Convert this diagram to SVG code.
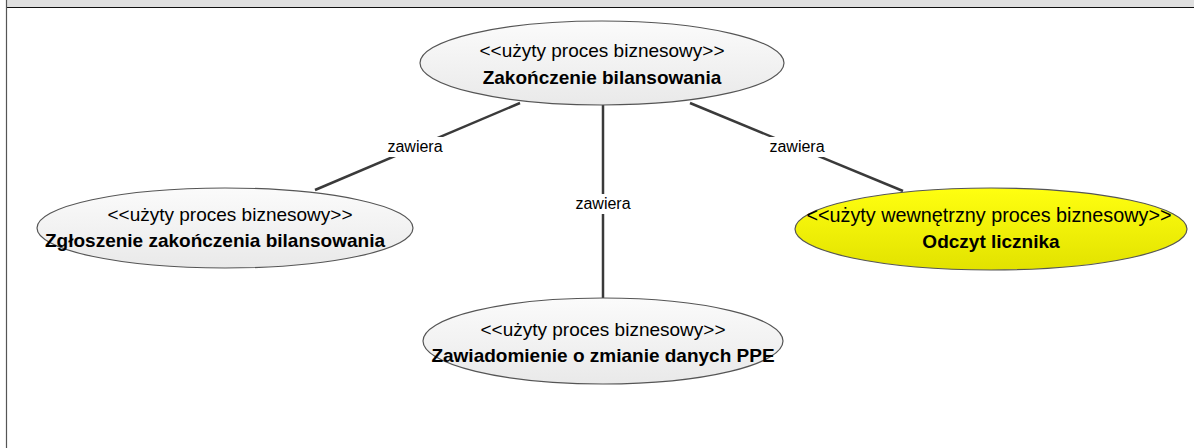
<svg xmlns="http://www.w3.org/2000/svg" width="1194" height="448" viewBox="0 0 1194 448">
<style>
.st{font-family:"Liberation Sans",Arial,sans-serif;font-size:19px;fill:#000;text-anchor:middle}
.nm{font-family:"Liberation Sans",Arial,sans-serif;font-size:19px;font-weight:bold;fill:#000;text-anchor:middle}
.lb{font-family:"Liberation Sans",Arial,sans-serif;font-size:16px;fill:#000;text-anchor:middle}
.uc{fill:url(#gGray);stroke:#555;stroke-width:1.2}
.uy{fill:url(#gYel);stroke:#555;stroke-width:1.2}
.cn{stroke:#3a3a3a;stroke-width:2.5;fill:none}
</style>
<defs>
<linearGradient id="gGray" x1="0" y1="0" x2="0" y2="1">
<stop offset="0" stop-color="#fbfbfb"/><stop offset="1" stop-color="#e9e9e9"/>
</linearGradient>
<linearGradient id="gYel" x1="0" y1="0" x2="0" y2="1">
<stop offset="0" stop-color="#ffff10"/><stop offset="1" stop-color="#e2e200"/>
</linearGradient>
</defs>
<rect x="0" y="0" width="1194" height="448" fill="#fff"/>
<rect x="6" y="0" width="1188" height="7.5" fill="#e0e0e0"/>
<line x1="6" y1="7.5" x2="1194" y2="7.5" stroke="#111" stroke-width="1.2"/>
<line x1="6.5" y1="0" x2="6.5" y2="448" stroke="#555" stroke-width="1.2"/>
<g id="connectors">
<line class="cn" x1="520" y1="103" x2="315" y2="190"/>
<line class="cn" x1="603" y1="105" x2="603" y2="300"/>
<line class="cn" x1="690" y1="103" x2="903" y2="191"/>
<rect x="382" y="137" width="66" height="20" fill="#fff"/>
<text class="lb" x="415" y="152">zawiera</text>
<rect x="570" y="194" width="66" height="20" fill="#fff"/>
<text class="lb" x="603" y="209">zawiera</text>
<rect x="764" y="137" width="66" height="20" fill="#fff"/>
<text class="lb" x="797" y="152">zawiera</text>
</g>
<g id="n1">
<ellipse class="uc" cx="602" cy="63" rx="182" ry="42"/>
<text class="st" x="602" y="57">&lt;&lt;użyty proces biznesowy&gt;&gt;</text>
<text class="nm" x="602" y="84">Zakończenie bilansowania</text>
</g>
<g id="n2">
<ellipse class="uc" cx="225" cy="228" rx="188" ry="40"/>
<text class="st" x="230" y="221">&lt;&lt;użyty proces biznesowy&gt;&gt;</text>
<text class="nm" x="215" y="247">Zgłoszenie zakończenia bilansowania</text>
</g>
<g id="n3">
<ellipse class="uy" cx="991" cy="229" rx="196" ry="41"/>
<text class="st" x="989" y="222" style="font-size:19.8px">&lt;&lt;użyty wewnętrzny proces biznesowy&gt;&gt;</text>
<text class="nm" x="991" y="248">Odczyt licznika</text>
</g>
<g id="n4">
<ellipse class="uc" cx="603" cy="341" rx="180" ry="43"/>
<text class="st" x="603" y="336">&lt;&lt;użyty proces biznesowy&gt;&gt;</text>
<text class="nm" x="603" y="362">Zawiadomienie o zmianie danych PPE</text>
</g>
</svg>
